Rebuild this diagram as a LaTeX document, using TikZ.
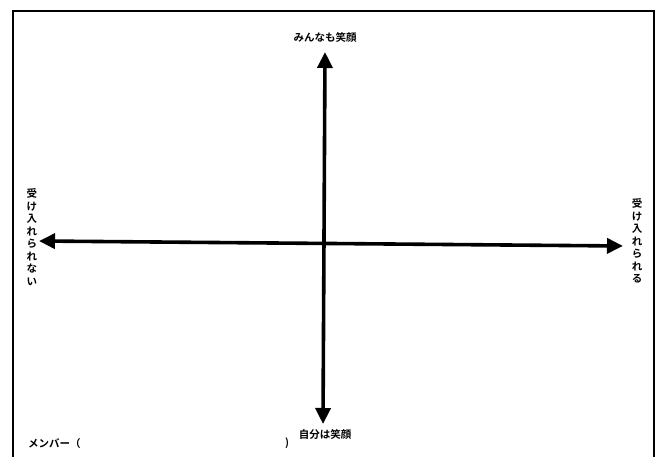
\documentclass[tikz,border=0pt]{standalone}
\usepackage{fontspec}
\setmainfont{Noto Sans CJK JP Bold}
\usetikzlibrary{arrows.meta}
\tikzset{
  axis/.style={line width=3.6pt, {Triangle[length=16pt,width=15pt]}-{Triangle[length=16pt,width=15pt]}},
  frame/.style={line width=2.6pt},
  lbl/.style={font=\fontsize{10.5}{12.5}\selectfont, inner sep=0pt},
  vlbl/.style={lbl, align=center}
}
\begin{document}
\begin{tikzpicture}[x=1pt,y=-1pt]
\useasboundingbox (0,0) rectangle (659,457);
\fill[white] (0,0) rectangle (659,457);
\draw[frame] (13,457) -- (13,11) -- (654,11) -- (654,457);
\coordinate (top) at (325,52);
\coordinate (bot) at (323,424);
\coordinate (lft) at (39,241);
\coordinate (rgt) at (623,246);
\draw[axis] (bot) -- (top);
\draw[axis] (lft) -- (rgt);
\node[lbl] (t) at (325,38) {みんなも笑顔};
\node[lbl] (b) at (325,435) {自分は笑顔};
\node[vlbl] (l) at (32,237) {受\\け\\入\\れ\\ら\\れ\\な\\い};
\node[vlbl] (r) at (637,241) {受\\け\\入\\れ\\ら\\れ\\る};
\node[lbl, anchor=west] (m) at (28,444) {メンバー（};
\node[lbl] (p) at (287,443) {)};
\end{tikzpicture}
\end{document}
